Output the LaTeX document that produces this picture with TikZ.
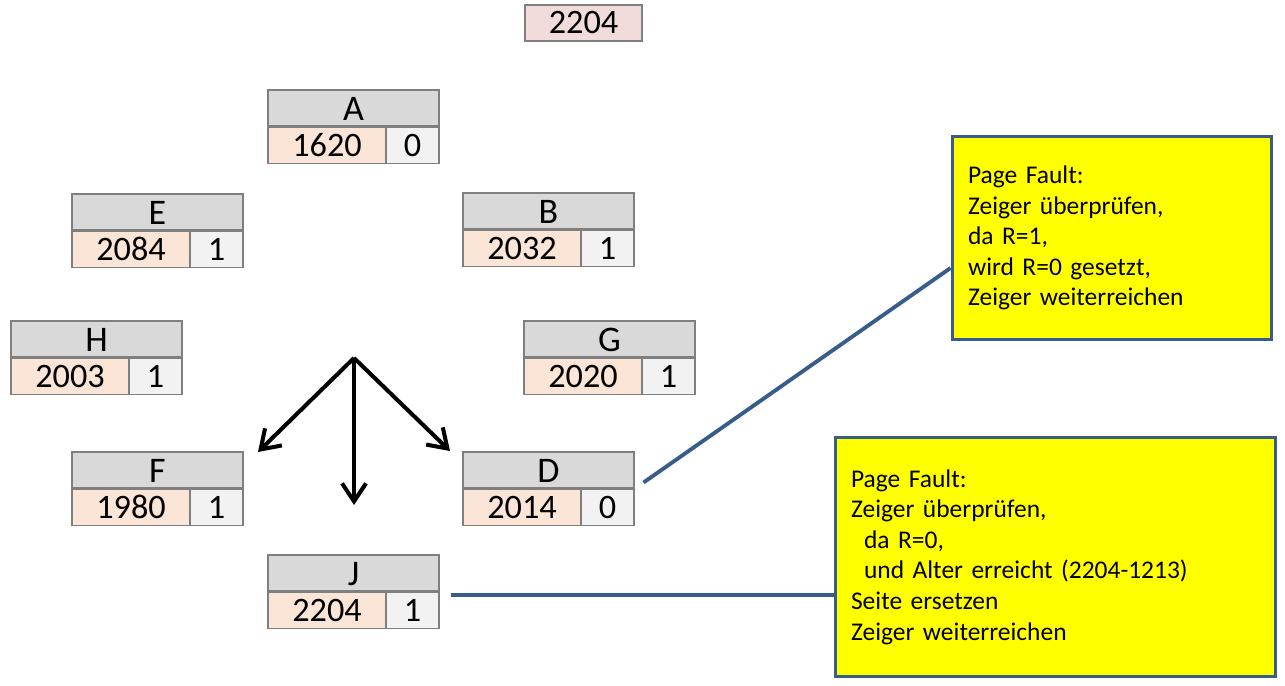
\documentclass[tikz,border=0pt]{standalone}
\usepackage{fontspec}
\setmainfont{Carlito}
\usetikzlibrary{arrows.meta,calc}
\definecolor{PgHead}{HTML}{D9D9D9}
\definecolor{PgAddr}{HTML}{FBE5D6}
\definecolor{PgBit}{HTML}{F2F2F2}
\definecolor{PgTime}{HTML}{F2DCDB}
\definecolor{PgLine}{HTML}{7F7F7F}
\definecolor{NoteBlue}{HTML}{385D8A}
\definecolor{NoteFill}{HTML}{FFFF00}
\tikzset{
  cell/.style={draw=PgLine,line width=0.6pt,inner sep=0pt,minimum height=0.72cm,
    font=\fontsize{19.5}{20}\selectfont},
  headcell/.style={cell,fill=PgHead,minimum width=3.42cm,
    font=\fontsize{20.5}{21}\selectfont,text height=0.6cm,text depth=0.085cm},
  addrcell/.style={cell,fill=PgAddr,minimum width=2.36cm},
  bitcell/.style={cell,fill=PgBit,minimum width=1.06cm},
  note/.style={draw=NoteBlue,line width=1.7pt,fill=NoteFill,align=left,
    inner xsep=0.32cm,font=\fontsize{14.5}{17.4}\selectfont},
  hand/.style={line width=2.3pt,-{Straight Barb[length=3.6mm,width=4.8mm]}},
  link/.style={NoteBlue,line width=2.2pt}
}
\begin{document}
\begin{tikzpicture}[x=0.02cm,y=-0.02cm]
\useasboundingbox (0,0) rectangle (1285,686);
% current time
\node[cell,fill=PgTime,minimum width=2.34cm] (now) at (583.5,23) {2204};
% page frames on the clock
\foreach \n/\x/\y/\v/\r in {A/268/90/1620/0, E/72/194/2084/1, B/463/193/2032/1,
    H/11/321/2003/1, G/524/321/2020/1, F/72/452/1980/1, D/463/452/2014/0,
    J/268/555/2204/1} {
  \node[headcell] (\n) at (\x+85.5,\y+18) {\n};
  \node[addrcell,anchor=north west] (\n-a) at (\n.south west) {\v};
  \node[bitcell,anchor=north east] (\n-r) at (\n.south east) {\r};
}
% hand of the clock
\coordinate (fork) at (354,358);
\coordinate (toF) at (258,452);
\coordinate (toJ) at (354,505);
\coordinate (toD) at (450,451);
\foreach \t in {toF,toJ,toD}
  \draw[hand] (fork) -- (\t);
% notes
\node[note,text width=5.76cm,minimum height=4.08cm] (note1) at (1112,238)
  {Page Fault:\\Zeiger überprüfen,\\da R=1,\\wird R=0 gesetzt,\\Zeiger weiterreichen};
\node[note,text width=8.18cm,minimum height=4.8cm] (note2) at (1055.5,557)
  {Page Fault:\\Zeiger überprüfen,\\\hspace*{0.26cm}da R=0,\\\hspace*{0.26cm}und Alter erreicht (2204-1213)\\Seite ersetzen\\Zeiger weiterreichen};
\coordinate (fromD) at ($(D-r.north east)+(9,-6)$);
\coordinate (fromJ) at ($(J-r.east)+(11,-15)$);
\draw[link] (fromD) -- (note1.west |- 0,268);
\draw[link] (fromJ) -- (note2.west |- fromJ);
\end{tikzpicture}
\end{document}
